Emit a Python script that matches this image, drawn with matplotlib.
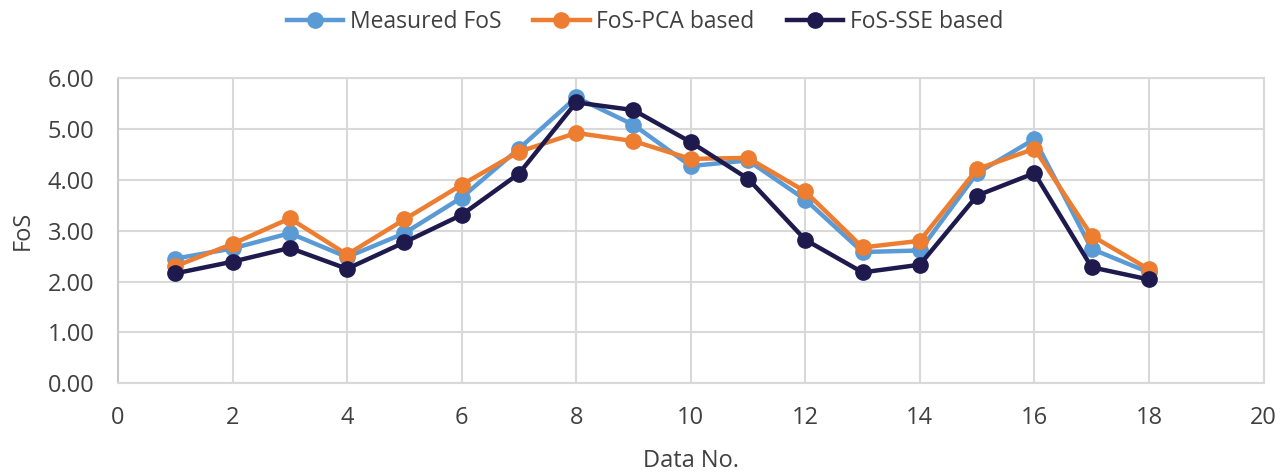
import matplotlib
matplotlib.use("Agg")
import matplotlib.pyplot as plt

# Values
data_no = list(range(1, 19))
measured_fos = [2.45, 2.65, 2.95, 2.48, 2.95, 3.65, 4.61, 5.62, 5.08, 4.27, 4.38, 3.61,
                2.58, 2.61, 4.13, 4.80, 2.64, 2.18]
pca_fos = [2.30, 2.74, 3.24, 2.53, 3.22, 3.90, 4.55, 4.92, 4.76, 4.41, 4.43, 3.77,
           2.67, 2.80, 4.21, 4.61, 2.90, 2.24]
sse_fos = [2.16, 2.39, 2.66, 2.25, 2.77, 3.31, 4.12, 5.52, 5.37, 4.74, 4.02, 2.82,
           2.18, 2.33, 3.69, 4.13, 2.28, 2.04]

series = [
    ("Measured FoS", measured_fos, "#5B9BD5"),
    ("FoS-PCA based", pca_fos, "#ED7D31"),
    ("FoS-SSE based", sse_fos, "#1E1A4E"),
]

plt.rcParams["font.family"] = ["Open Sans", "DejaVu Sans"]
text_color = "#404040"
grid_color = "#D9D9D9"

fig = plt.figure(figsize=(12.85, 4.74), dpi=100)
ax = fig.add_axes([118 / 1285, 1 - 383.3 / 474, (1263.5 - 118) / 1285, (383.3 - 78) / 474])

for label, values, color in series:
    ax.plot(data_no, values, color=color, linewidth=3.2, marker="o", markersize=11,
            label=label, zorder=3)

ax.set_xlim(0, 20)
ax.set_ylim(0, 6)
ax.set_xticks(range(0, 21, 2))
ax.set_yticks(range(0, 7))
ax.set_yticklabels([f"{v:.2f}" for v in range(0, 7)])
ax.grid(True, color=grid_color, linewidth=1.5, zorder=0)
for name, spine in ax.spines.items():
    spine.set_color(grid_color)
    spine.set_linewidth(1.5)
ax.spines["left"].set_color("#C8C8C8")
ax.tick_params(length=0, labelsize=17, colors=text_color)
ax.tick_params(axis="y", pad=17)
ax.tick_params(axis="x", pad=16)
ax.set_xlabel("Data No.", fontsize=17, color=text_color, labelpad=14)
ax.set_ylabel("FoS", fontsize=17, color=text_color, labelpad=9)

leg = ax.legend(loc="lower center", bbox_to_anchor=(0.46, 1.075), ncol=3, frameon=False,
                fontsize=16.5, handlelength=2.45, columnspacing=1.4, handletextpad=0.3,
                markerscale=1.0)
for t in leg.get_texts():
    t.set_color(text_color)

fig.savefig("out.png", dpi=100)
